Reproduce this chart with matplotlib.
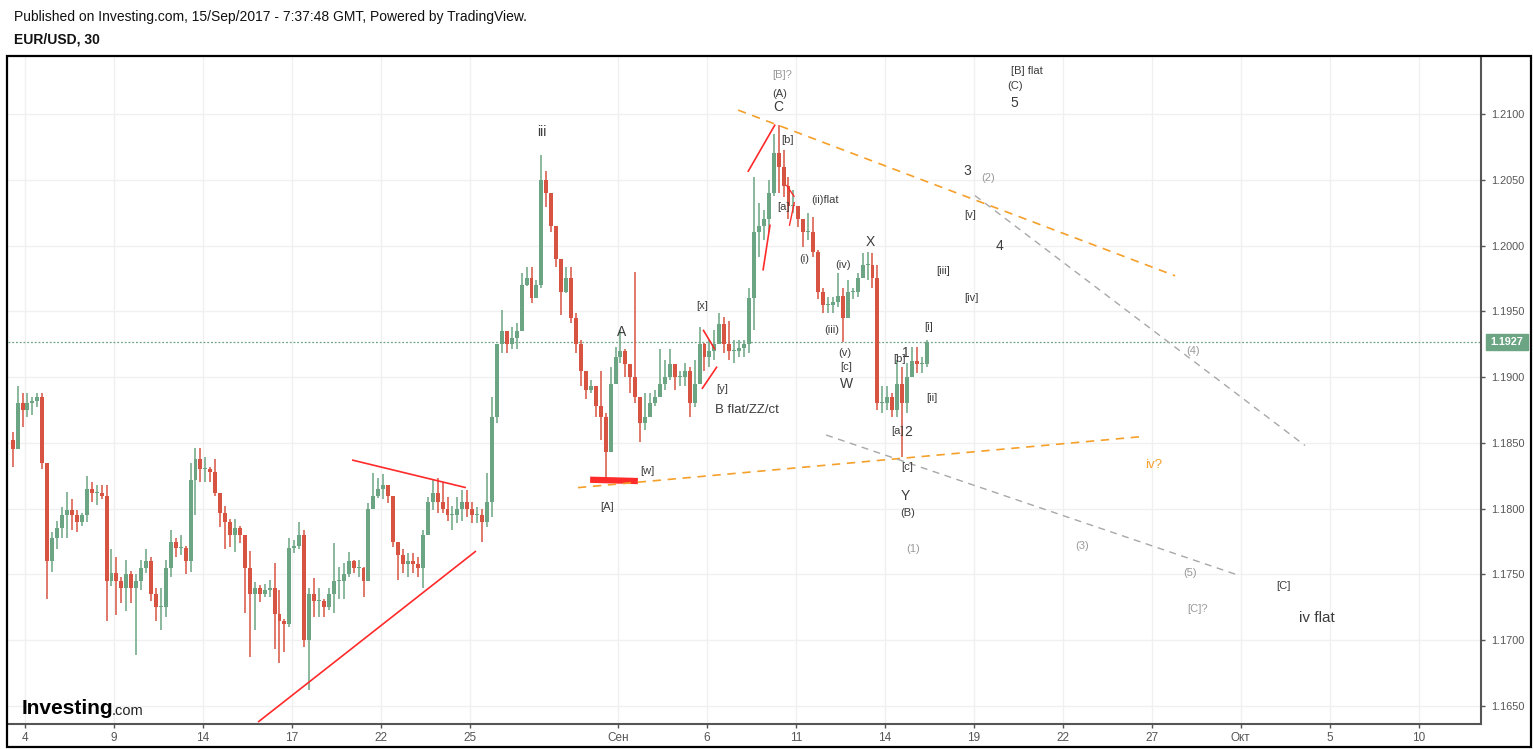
import matplotlib
matplotlib.use("Agg")
import matplotlib.pyplot as plt
from matplotlib import font_manager
from matplotlib.patches import Rectangle
import numpy as np

# ---------------- data (4-hour bars, EUR/USD) ----------------
first_bar = -3          # bar index of first bar (6 bars per trading day, day 0 = 4 Aug)
bars_per_day = 6
first_open = 1.1852
highs = [1.1858, 1.1893, 1.1888, 1.1888, 1.1885, 1.1888, 1.1888, 1.1835, 1.1782, 1.1791,
         1.1801, 1.1813, 1.1807, 1.1799, 1.1797, 1.1825, 1.1820, 1.1818, 1.1818, 1.1818,
         1.1769, 1.1763, 1.1748, 1.1761, 1.1753, 1.1750, 1.1761, 1.1769, 1.1763, 1.1740,
         1.1740, 1.1761, 1.1784, 1.1778, 1.1780, 1.1772, 1.1835, 1.1846, 1.1846, 1.1839,
         1.1832, 1.1838, 1.1812, 1.1802, 1.1792, 1.1792, 1.1787, 1.1780, 1.1768, 1.1744,
         1.1742, 1.1743, 1.1746, 1.1759, 1.1738, 1.1716, 1.1778, 1.1776, 1.1790, 1.1784,
         1.1740, 1.1747, 1.1740, 1.1731, 1.1740, 1.1774, 1.1756, 1.1759, 1.1767, 1.1761,
         1.1761, 1.1756, 1.1804, 1.1827, 1.1823, 1.1826, 1.1818, 1.1810, 1.1775, 1.1769,
         1.1766, 1.1766, 1.1763, 1.1784, 1.1809, 1.1822, 1.1823, 1.1820, 1.1809, 1.1802,
         1.1809, 1.1814, 1.1814, 1.1805, 1.1801, 1.1800, 1.1827, 1.1885, 1.1925, 1.1951,
         1.1935, 1.1938, 1.1941, 1.1979, 1.1984, 1.1984, 1.1974, 1.2069, 1.2057, 1.2040,
         1.2015, 1.1990, 1.1984, 1.1984, 1.1949, 1.1928, 1.1905, 1.1898, 1.1893, 1.1905,
         1.1873, 1.1908, 1.1923, 1.1936, 1.1921, 1.1910, 1.1980, 1.1885, 1.1888, 1.1888,
         1.1890, 1.1921, 1.1913, 1.1921, 1.1910, 1.1905, 1.1911, 1.1908, 1.1913, 1.1938,
         1.1926, 1.1928, 1.1936, 1.1949, 1.1946, 1.1943, 1.1928, 1.1928, 1.1928, 1.1968,
         1.2052, 1.2032, 1.2027, 1.2050, 1.2085, 1.2092, 1.2073, 1.2052, 1.2042, 1.2030,
         1.2020, 1.2025, 1.2022, 1.1997, 1.1968, 1.1961, 1.1961, 1.1979, 1.1968, 1.1974,
         1.1968, 1.1979, 1.1994, 1.1995, 1.1994, 1.1985, 1.1893, 1.1893, 1.1888, 1.1913,
         1.1908, 1.1911, 1.1923, 1.1923, 1.1915, 1.1928]
lows = [1.1832, 1.1845, 1.1862, 1.1870, 1.1871, 1.1877, 1.1830, 1.1731, 1.1752, 1.1769,
        1.1778, 1.1778, 1.1784, 1.1782, 1.1787, 1.1790, 1.1805, 1.1803, 1.1807, 1.1715,
        1.1741, 1.1719, 1.1728, 1.1722, 1.1728, 1.1689, 1.1738, 1.1751, 1.1730, 1.1715,
        1.1708, 1.1718, 1.1748, 1.1763, 1.1765, 1.1750, 1.1752, 1.1795, 1.1820, 1.1820,
        1.1820, 1.1810, 1.1786, 1.1769, 1.1771, 1.1767, 1.1774, 1.1721, 1.1687, 1.1708,
        1.1729, 1.1733, 1.1733, 1.1693, 1.1683, 1.1691, 1.1710, 1.1766, 1.1769, 1.1695,
        1.1662, 1.1718, 1.1718, 1.1718, 1.1723, 1.1721, 1.1731, 1.1731, 1.1748, 1.1751,
        1.1748, 1.1733, 1.1746, 1.1801, 1.1808, 1.1807, 1.1804, 1.1771, 1.1746, 1.1751,
        1.1748, 1.1751, 1.1748, 1.1740, 1.1780, 1.1799, 1.1797, 1.1797, 1.1791, 1.1784,
        1.1789, 1.1791, 1.1794, 1.1789, 1.1789, 1.1775, 1.1786, 1.1794, 1.1865, 1.1918,
        1.1918, 1.1921, 1.1921, 1.1935, 1.1969, 1.1956, 1.1960, 1.1968, 1.2029, 1.2010,
        1.1984, 1.1947, 1.1964, 1.1941, 1.1918, 1.1893, 1.1883, 1.1888, 1.1870, 1.1852,
        1.1823, 1.1843, 1.1895, 1.1911, 1.1900, 1.1888, 1.1880, 1.1851, 1.1860, 1.1870,
        1.1878, 1.1885, 1.1890, 1.1898, 1.1890, 1.1893, 1.1893, 1.1870, 1.1877, 1.1895,
        1.1905, 1.1908, 1.1913, 1.1925, 1.1918, 1.1913, 1.1911, 1.1915, 1.1915, 1.1918,
        1.1936, 1.1991, 1.2004, 1.2010, 1.2038, 1.2040, 1.2037, 1.2020, 1.2025, 1.2014,
        1.1999, 1.2004, 1.1991, 1.1959, 1.1949, 1.1949, 1.1949, 1.1953, 1.1927, 1.1945,
        1.1959, 1.1961, 1.1975, 1.1974, 1.1968, 1.1875, 1.1873, 1.1875, 1.1870, 1.1870,
        1.1839, 1.1873, 1.1900, 1.1903, 1.1903, 1.1908]
closes = [1.1845, 1.1880, 1.1875, 1.1880, 1.1882, 1.1885, 1.1835, 1.1760, 1.1778, 1.1785,
          1.1795, 1.1799, 1.1795, 1.1790, 1.1795, 1.1815, 1.1812, 1.1812, 1.1810, 1.1745,
          1.1751, 1.1745, 1.1740, 1.1750, 1.1740, 1.1745, 1.1755, 1.1760, 1.1735, 1.1725,
          1.1725, 1.1755, 1.1775, 1.1770, 1.1770, 1.1760, 1.1822, 1.1838, 1.1830, 1.1830,
          1.1828, 1.1812, 1.1797, 1.1790, 1.1780, 1.1785, 1.1780, 1.1755, 1.1735, 1.1740,
          1.1735, 1.1738, 1.1740, 1.1720, 1.1715, 1.1712, 1.1770, 1.1772, 1.1780, 1.1700,
          1.1735, 1.1730, 1.1730, 1.1725, 1.1735, 1.1745, 1.1745, 1.1750, 1.1760, 1.1755,
          1.1755, 1.1745, 1.1800, 1.1810, 1.1815, 1.1818, 1.1810, 1.1775, 1.1765, 1.1758,
          1.1760, 1.1758, 1.1755, 1.1780, 1.1805, 1.1812, 1.1805, 1.1800, 1.1795, 1.1795,
          1.1800, 1.1805, 1.1800, 1.1795, 1.1795, 1.1790, 1.1805, 1.1870, 1.1925, 1.1935,
          1.1925, 1.1930, 1.1935, 1.1970, 1.1975, 1.1960, 1.1970, 1.2050, 1.2040, 1.2015,
          1.1990, 1.1965, 1.1975, 1.1945, 1.1925, 1.1905, 1.1890, 1.1893, 1.1878, 1.1870,
          1.1843, 1.1895, 1.1915, 1.1920, 1.1910, 1.1900, 1.1885, 1.1865, 1.1870, 1.1880,
          1.1885, 1.1895, 1.1900, 1.1910, 1.1900, 1.1900, 1.1905, 1.1880, 1.1895, 1.1925,
          1.1915, 1.1920, 1.1925, 1.1940, 1.1925, 1.1920, 1.1920, 1.1922, 1.1925, 1.1960,
          1.2010, 1.2015, 1.2020, 1.2040, 1.2070, 1.2060, 1.2045, 1.2030, 1.2030, 1.2020,
          1.2010, 1.2010, 1.1995, 1.1965, 1.1955, 1.1955, 1.1957, 1.1962, 1.1945, 1.1965,
          1.1965, 1.1975, 1.1985, 1.1985, 1.1975, 1.1880, 1.1880, 1.1885, 1.1875, 1.1895,
          1.1880, 1.1900, 1.1912, 1.1910, 1.1910, 1.1927]

# axis ticks (trading-day index, label)
tick_days = [0, 3, 6, 9, 12, 15, 20, 23, 26, 29, 32, 35, 38, 41, 44, 47]
tick_labels = ['4', '9', '14', '17', '22', '25', 'Сен', '6', '11', '14',
               '19', '22', '27', 'Окт', '5', '10']
price_ticks = [1.1650, 1.1700, 1.1750, 1.1800, 1.1850, 1.1900,
               1.1950, 1.2000, 1.2050, 1.2100]
last_price = 1.1927

# wave labels: (text, day, price, colour, size)
DARK = '#3c3c3c'
GREY = '#9a9a9a'
ORANGE = '#f5a02a'
labels = [
    ('iii', 17.44, 1.2086, DARK, 10), ('A', 20.13, 1.1934, DARK, 10),
    ('[A]', 19.63, 1.1801, DARK, 8), ('[w]', 20.98, 1.1829, DARK, 8),
    ('[x]', 22.83, 1.1954, DARK, 8), ('[y]', 23.51, 1.1891, DARK, 8),
    ('B flat/ZZ/ct', 24.35, 1.1875, DARK, 9.5), ('[B]?', 25.53, 1.2130, GREY, 8),
    ('(A)', 25.46, 1.2115, DARK, 8), ('C', 25.40, 1.2105, DARK, 10),
    ('[b]', 25.73, 1.2080, DARK, 8), ('[a]', 25.58, 1.2029, DARK, 8),
    ('(ii)flat', 26.98, 1.2035, DARK, 8), ('(i)', 26.27, 1.1990, DARK, 8),
    ('(iv)', 27.59, 1.1985, DARK, 8), ('(iii)', 27.22, 1.1936, DARK, 8),
    ('(v)', 27.66, 1.1918, DARK, 8), ('[c]', 27.69, 1.1908, DARK, 8),
    ('W', 27.72, 1.1895, DARK, 10), ('X', 28.50, 1.2003, DARK, 10),
    ('[b]', 29.48, 1.1914, DARK, 8), ('1', 29.72, 1.1918, DARK, 10),
    ('[a]', 29.41, 1.1859, DARK, 8), ('2', 29.79, 1.1858, DARK, 10),
    ('[c]', 29.75, 1.1832, DARK, 8), ('Y', 29.68, 1.1810, DARK, 10),
    ('(B)', 29.78, 1.1797, DARK, 8), ('[i]', 30.49, 1.1938, DARK, 8),
    ('[ii]', 30.59, 1.1884, DARK, 8), ('[iii]', 30.96, 1.1981, DARK, 8),
    ('[iv]', 31.91, 1.1960, DARK, 8), ('[v]', 31.87, 1.2023, DARK, 8),
    ('3', 31.77, 1.2057, DARK, 10), ('(2)', 32.48, 1.2051, GREY, 8),
    ('4', 32.88, 1.2000, DARK, 10), ('[B] flat', 33.79, 1.2133, DARK, 8),
    ('(C)', 33.39, 1.2121, DARK, 8), ('5', 33.36, 1.2108, DARK, 10),
    ('(4)', 39.39, 1.1920, GREY, 8), ('iv?', 38.08, 1.1833, ORANGE, 9.5),
    ('(1)', 29.95, 1.1769, GREY, 8), ('(3)', 35.65, 1.1772, GREY, 8),
    ('(5)', 39.29, 1.1751, GREY, 8), ('[C]?', 39.53, 1.1724, GREY, 8),
    ('[C]', 42.43, 1.1741, DARK, 8), ('iv flat', 43.58, 1.1717, DARK, 11),
]

# drawn trend lines: (day0, price0, day1, price1, colour, width, style)
RED = '#ff2a2a'
trend_lines = [
    (7.86, 1.16378, 15.21, 1.17678, RED, 1.2, '-'),
    (11.03, 1.1837, 14.87, 1.1816, RED, 1.2, '-'),
    (19.06, 1.1822, 20.67, 1.1821, RED, 4.5, '-'),
    (22.87, 1.1936, 23.27, 1.1921, RED, 1.2, '-'),
    (22.83, 1.1891, 23.34, 1.1908, RED, 1.2, '-'),
    (24.38, 1.2056, 25.30, 1.2092, RED, 1.2, '-'),
    (24.89, 1.1981, 25.13, 1.2016, RED, 1.2, '-'),
    (25.68, 1.2046, 25.95, 1.2037, RED, 1.0, '-'),
    (25.78, 1.2015, 25.95, 1.2033, RED, 1.0, '-'),
    (24.05, 1.2103, 38.79, 1.1977, ORANGE, 1.2, '--'),
    (18.65, 1.1816, 37.77, 1.1855, ORANGE, 1.2, '--'),
    (27.02, 1.1856, 40.98, 1.1749, '#a8a8a8', 1.0, '--'),
    (32.04, 1.2038, 43.17, 1.1848, '#a8a8a8', 1.0, '--'),
]

# ---------------- fonts ----------------
names = {f.name for f in font_manager.fontManager.ttflist}
BASE = 'Liberation Sans' if 'Liberation Sans' in names else 'DejaVu Sans'
NARROW = 'Liberation Sans Narrow' if 'Liberation Sans Narrow' in names else BASE
plt.rcParams['font.family'] = [BASE, 'DejaVu Sans']

W, H = 1533, 749
fig = plt.figure(figsize=(W / 100, H / 100), dpi=100)
fig.patch.set_facecolor('white')
L, R, T, B = 8, 1481, 57, 724
ax = fig.add_axes([L / W, 1 - B / H, (R - L) / W, (B - T) / H])

UP, DOWN = '#6ba583', '#d75442'
n = len(closes)
xs = (first_bar + np.arange(n) + 0.5) / bars_per_day
opens = np.concatenate([[first_open], np.array(closes[:-1])])
cl = np.array(closes)
hi = np.maximum(np.array(highs), np.maximum(opens, cl))
lo = np.minimum(np.array(lows), np.minimum(opens, cl))
cols = np.where(cl >= opens, UP, DOWN)
bw = 0.8 / bars_per_day
ax.vlines(xs, lo, hi, colors=cols, lw=1.1, zorder=3)
ax.bar(xs, np.maximum(np.abs(cl - opens), 0.00008), bottom=np.minimum(opens, cl),
       width=bw, color=cols, linewidth=0, zorder=3)

# last price line
ax.axhline(last_price, color=UP, lw=0.9, ls=(0, (1.5, 1.5)), zorder=2)

for (x0, y0, x1, y1, c, w, s) in trend_lines:
    if s == '--':
        ax.plot([x0, x1], [y0, y1], color=c, lw=w, dashes=(5, 4), zorder=4)
    else:
        ax.plot([x0, x1], [y0, y1], color=c, lw=w, zorder=4,
                solid_capstyle='butt')

for (t, x, y, c, s) in labels:
    ax.text(x, y, t, color=c, fontsize=s, ha='center', va='center', zorder=5)

xmin = (L - 25) / 29.65
xmax = (R - 25) / 29.65
ax.set_xlim(xmin, xmax)
ax.set_ylim(1.21 - (B - 114) / 13156, 1.21 + (114 - T) / 13156)

ax.set_xticks(tick_days)
ax.set_xticklabels(tick_labels, fontsize=8.5, color='#555555', family=NARROW)
ax.yaxis.tick_right()
ax.set_yticks(price_ticks)
ax.set_yticklabels([f'{p:.4f}' for p in price_ticks], fontsize=7.8, color='#555555')
ax.tick_params(axis='y', length=3, width=1, color='#555555', pad=4)
ax.tick_params(axis='x', length=3, width=1, color='#555555', pad=3)
ax.grid(True, color='#f0f0f0', lw=1, zorder=0)
ax.set_axisbelow(True)
for sp in ['top', 'left']:
    ax.spines[sp].set_visible(False)
for sp in ['bottom', 'right']:
    ax.spines[sp].set_color('#555555')
    ax.spines[sp].set_linewidth(1.5)

# last price label
ypix = 114 + (1.21 - last_price) * 13156
fig.patches.append(Rectangle((1486 / W, 1 - (ypix + 8) / H), 42 / W, 16 / H,
                             transform=fig.transFigure, color=UP, zorder=5))
fig.text(1507 / W, 1 - ypix / H, f'{last_price:.4f}', color='white', fontsize=7.8,
         fontweight='bold', ha='center', va='center', zorder=6)

# outer frame
fig.patches.append(Rectangle((7 / W, 1 - 747 / H), (1531 - 7) / W, (747 - 56) / H,
                             transform=fig.transFigure, fill=False,
                             edgecolor='black', lw=1.6, zorder=10))

# header
fig.text(14 / W, 1 - 17 / H, 'Published on Investing.com, 15/Sep/2017 - 7:37:48 GMT, '
         'Powered by TradingView.', fontsize=10, color='#111111', va='center')
fig.text(14 / W, 1 - 40 / H, 'EUR/USD, 30', fontsize=10, color='#111111',
         fontweight='bold', va='center')

# logo
fig.text(22 / W, 1 - 708 / H, 'Investing', fontsize=15, fontweight='bold',
         color='black', va='center', family=NARROW)
fig.text(112 / W, 1 - 711 / H, '.com', fontsize=10.5, color='#222222',
         va='center', family=NARROW)

fig.savefig('out.png', dpi=100)
